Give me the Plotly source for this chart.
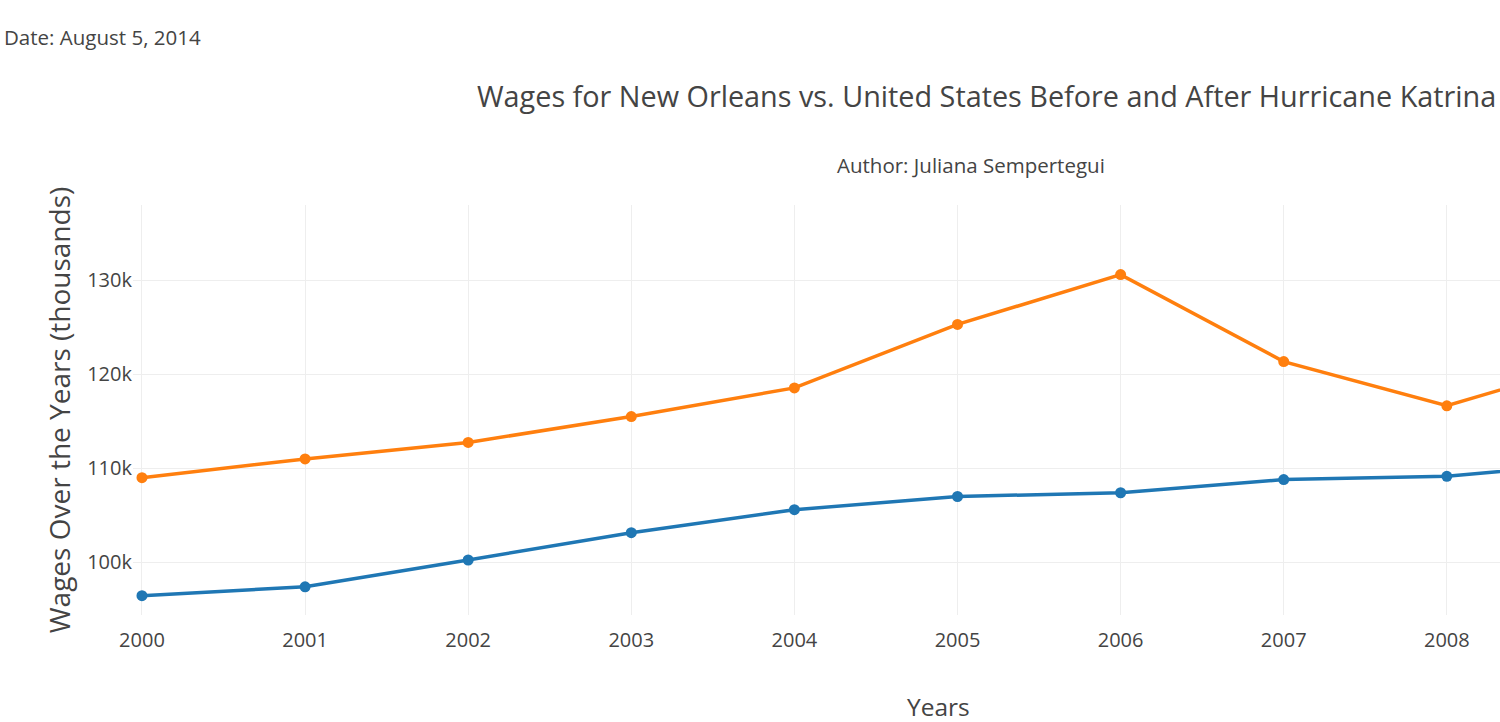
import plotly.graph_objects as go

years = [2000, 2001, 2002, 2003, 2004, 2005, 2006, 2007, 2008, 2009]
us_wages = [96.45, 97.4, 100.25, 103.15, 105.6, 107.0, 107.4, 108.8, 109.15, 110.75]
no_wages = [109.0, 111.0, 112.75, 115.5, 118.55, 125.3, 130.6, 121.35, 116.65, 121.8]
us_wages = [v * 1000 for v in us_wages]
no_wages = [v * 1000 for v in no_wages]

FONT = "Open Sans, Noto Sans, sans-serif"
GREY = "#444444"

fig = go.Figure()
fig.add_trace(go.Scatter(x=years, y=us_wages, mode="lines+markers", name="United States",
                         line=dict(color="#1f77b4", width=3.5), marker=dict(size=11, color="#1f77b4")))
fig.add_trace(go.Scatter(x=years, y=no_wages, mode="lines+markers", name="New Orleans",
                         line=dict(color="#ff7f0e", width=3.5), marker=dict(size=11, color="#ff7f0e")))

fig.update_layout(
    width=1500, height=722,
    margin=dict(l=133, r=0, t=205, b=107),
    paper_bgcolor="white", plot_bgcolor="white",
    font=dict(family=FONT, color=GREY),
    showlegend=False,
    title=dict(text="Wages for New Orleans vs. United States Before and After Hurricane Katrina",
               xref="container", x=477 / 1500, xanchor="left",
               yref="container", y=1 - 97 / 722, yanchor="middle",
               font=dict(family=FONT, size=28.8, color=GREY)),
    xaxis=dict(range=[1999.945, 2008.326], dtick=1, tickformat="d",
               showgrid=True, gridcolor="#eeeeee", gridwidth=1, zeroline=False,
               showline=False, ticks="outside", ticklen=7, tickcolor="rgba(0,0,0,0)",
               tickfont=dict(size=20, color=GREY)),
    yaxis=dict(range=[94400, 138000], tickvals=[100000, 110000, 120000, 130000],
               ticktext=["100k", "110k", "120k", "130k"],
               showgrid=True, gridcolor="#eeeeee", gridwidth=1, zeroline=False,
               showline=False, ticks="", tickfont=dict(size=20, color=GREY),
               title=dict(text="Wages Over the Years (thousands)", standoff=8,
                          font=dict(size=28, color=GREY))),
    annotations=[
        dict(text="Date: August 5, 2014", xref="paper", yref="paper",
             x=(2 - 133) / 1367, y=(615 - 37) / 410, xanchor="left", yanchor="middle",
             showarrow=False, font=dict(size=20.5, color=GREY)),
        dict(text="Author: Juliana Sempertegui", xref="paper", yref="paper",
             x=(971 - 133) / 1367, y=(615 - 165) / 410, xanchor="center", yanchor="middle",
             showarrow=False, font=dict(size=20.5, color=GREY)),
        dict(text="Years", xref="paper", yref="paper",
             x=(938 - 133) / 1367, y=(615 - 706) / 410, xanchor="center", yanchor="middle",
             showarrow=False, font=dict(size=24.5, color=GREY)),
    ],
)

fig.write_html("out.html", config={"displayModeBar": False},
               post_script="document.body.style.margin='0px';")
